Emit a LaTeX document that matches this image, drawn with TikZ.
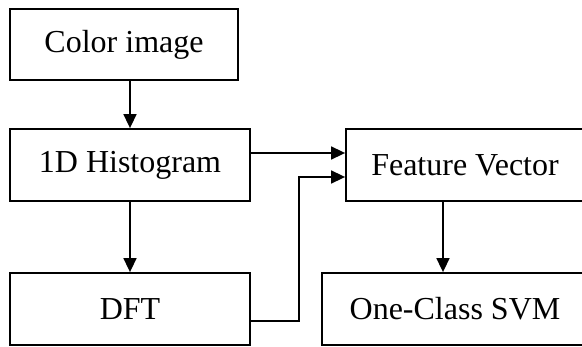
\documentclass[tikz,border=0pt]{standalone}
\usepackage{fontspec}
\setmainfont{Liberation Serif}
\usetikzlibrary{arrows.meta}
\begin{document}
\begin{tikzpicture}[x=1pt,y=-1pt,
  blk/.style={draw,line width=1.8pt,rectangle,inner sep=0pt,minimum height=72pt,
     font=\fontsize{32}{38}\selectfont},
  arr/.style={line width=1.6pt,-{Triangle[length=14pt,width=13pt]}},
  ln/.style={line width=1.6pt}]
\useasboundingbox (0,0) rectangle (582,347);
\clip (0,0) rectangle (582,347);
\node[blk,minimum width=228pt,minimum height=71pt] (color) at (124,44.5) {Color image};
\node[blk,minimum width=240pt] (hist) at (130,165) {1D Histogram};
\node[blk,minimum width=240pt] (dft) at (130,309) {DFT};
\node[blk,minimum width=238pt] (fv) at (465,165) {Feature Vector};
\node[blk,minimum width=266pt] (svm) at (455,309) {One-Class SVM};
\draw[arr] (hist.north |- color.south) -- (hist.north);
\draw[arr] (hist.south) -- (dft.north);
\draw[arr] ([yshift=12pt]hist.east) -- ([yshift=12pt]hist.east -| fv.west);
\draw[arr] ([yshift=-12pt]dft.east) -- ++(48,0) |- ([yshift=-12pt]fv.west);
\draw[arr] ([xshift=-22pt]fv.south) -- ([xshift=-22pt]fv.south |- svm.north);
\end{tikzpicture}
\end{document}
